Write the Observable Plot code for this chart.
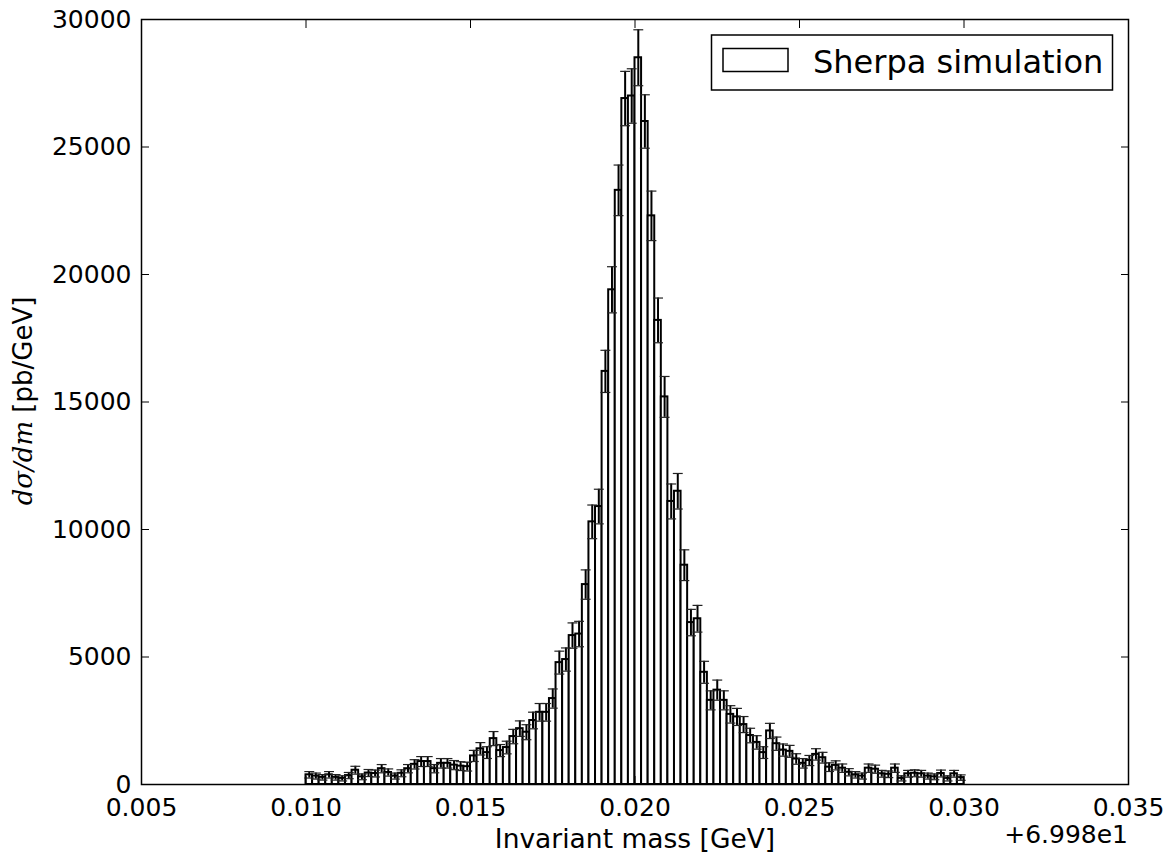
<!DOCTYPE html>
<html>
<head>
<meta charset="utf-8">
<script src="https://cdn.jsdelivr.net/npm/d3@7"></script>
<script src="https://cdn.jsdelivr.net/npm/@observablehq/plot@0.6"></script>
<style>
  body { margin: 0; background: #ffffff; }
  #chart { width: 1175px; height: 855px; }
</style>
</head>
<body>
<div id="chart"></div>
<script>
// Histogram bins (offset from 69.98 GeV): 100 bins of 0.0002 GeV from 0.010 to 0.030
const binStart = 0.010;
const binWidth = 0.0002;

// dσ/dm [pb/GeV] per bin
const xsec = [
  380, 330, 280, 380, 280, 240, 350, 560, 300, 450,
  430, 620, 470, 330, 440, 620, 790, 900, 900, 620,
  830, 830, 760, 720, 700, 1120, 1400, 1250, 1800, 1330,
  1450, 1880, 2190, 2050, 2510, 2830, 2830, 3370, 4780, 4900,
  5840, 5900, 7840, 10300, 10900, 16200, 19400, 23300, 26900, 27000,
  28500, 26000, 22300, 18200, 15200, 11100, 11500, 8600, 6350, 6500,
  4400, 3300, 3700, 3300, 2750, 2650, 2350, 1920, 1650, 1250,
  2100, 1600, 1350, 1300, 1000, 830, 940, 1180, 1050, 680,
  750, 640, 480, 380, 330, 640, 600, 420, 400, 640,
  240, 420, 440, 420, 330, 300, 430, 240, 420, 270
];

// error bar half-lengths per bin
const xsecErr = [
  127, 118, 109, 127, 109, 101, 122, 154, 113, 138,
  135, 162, 141, 118, 136, 162, 183, 195, 195, 162,
  187, 187, 179, 174, 172, 218, 243, 230, 276, 237,
  248, 282, 304, 294, 326, 346, 346, 377, 449, 455,
  497, 499, 576, 660, 679, 827, 905, 992, 1066, 1068,
  1097, 1048, 971, 877, 801, 685, 697, 603, 518, 524,
  431, 373, 395, 373, 341, 335, 315, 285, 264, 230,
  298, 260, 239, 234, 206, 187, 199, 223, 211, 170,
  178, 164, 142, 127, 118, 164, 159, 133, 130, 164,
  101, 133, 136, 133, 118, 113, 135, 101, 133, 107
];

const xTicks = [0.005, 0.010, 0.015, 0.020, 0.025, 0.030, 0.035];
const yTicks = [0, 5000, 10000, 15000, 20000, 25000, 30000];
const xDomain = [0.005, 0.035];
const yDomain = [0, 30000];
const xLabel = "Invariant mass [GeV]";
const yLabelMath = "dσ/dm";
const yLabelUnit = " [pb/GeV]";
const offsetLabel = "+6.998e1";
const legendLabel = "Sherpa simulation";

const bins = xsec.map((v, i) => ({
  lo: binStart + i * binWidth,
  hi: binStart + (i + 1) * binWidth,
  mid: binStart + (i + 0.5) * binWidth,
  v,
  e: xsecErr[i]
}));

// horizontal cap symbol for error bars
const capSymbol = {
  draw(ctx, size) {
    const w = Math.sqrt(size) / 2;
    ctx.moveTo(-w, 0);
    ctx.lineTo(w, 0);
  }
};

const W = 1175, H = 855;
const mL = 141, mR = 47, mT = 19, mB = 71;

const svg = Plot.plot({
  width: W,
  height: H,
  marginLeft: mL,
  marginRight: mR,
  marginTop: mT,
  marginBottom: mB,
  x: { domain: xDomain, axis: null },
  y: { domain: yDomain, axis: null },
  style: { fontFamily: "DejaVu Sans", fontSize: "25px", color: "black", background: "white", overflow: "visible" },
  marks: [
    Plot.rectY(bins, { x1: "lo", x2: "hi", y: "v", fill: "white", stroke: "black", strokeWidth: 2 }),
    Plot.ruleX(bins, { x: "mid", y1: d => d.v - d.e, y2: d => d.v + d.e, stroke: "black", strokeWidth: 2 }),
    Plot.dot(bins, { x: "mid", y: d => d.v + d.e, symbol: capSymbol, r: 5.6, stroke: "#222", strokeWidth: 1.2, fill: "none" }),
    Plot.dot(bins, { x: "mid", y: d => d.v - d.e, symbol: capSymbol, r: 5.6, stroke: "#222", strokeWidth: 1.2, fill: "none" }),
    // inward ticks on all four sides
    Plot.axisX(xTicks, { anchor: "bottom", tickSize: 8, dy: -8, tickFormat: () => "", label: null, stroke: "black" }),
    Plot.axisX(xTicks, { anchor: "top", tickSize: 8, dy: 8, tickFormat: () => "", label: null, stroke: "black" }),
    Plot.axisY(yTicks, { anchor: "left", tickSize: 8, dx: 8, tickFormat: () => "", label: null, stroke: "black" }),
    Plot.axisY(yTicks, { anchor: "right", tickSize: 8, dx: -8, tickFormat: () => "", label: null, stroke: "black" }),
    // tick labels
    Plot.axisX(xTicks, { anchor: "bottom", tickSize: 0, tickPadding: 14, tickFormat: d3.format(".3f"), label: null, fontSize: 25, fill: "black" }),
    Plot.axisY(yTicks, { anchor: "left", tickSize: 0, tickPadding: 10, tickFormat: d3.format("d"), label: null, fontSize: 25, fill: "black" }),
    Plot.frame({ stroke: "black", strokeWidth: 1.5 })
  ]
});

const s = d3.select(svg);
const plotRight = W - mR;

// x label
s.append("text")
  .attr("x", 635).attr("y", 848)
  .attr("text-anchor", "middle")
  .attr("font-family", "DejaVu Sans").attr("font-size", 26.5)
  .attr("fill", "black")
  .text(xLabel);

// offset text
s.append("text")
  .attr("x", plotRight).attr("y", 843)
  .attr("text-anchor", "end")
  .attr("font-family", "DejaVu Sans").attr("font-size", 25)
  .attr("fill", "black")
  .text(offsetLabel);

// y label with math part
const yl = s.append("text")
  .attr("transform", `translate(32, 401) rotate(-90)`)
  .attr("text-anchor", "middle")
  .attr("font-family", "DejaVu Sans").attr("font-size", 26)
  .attr("fill", "black");
yl.append("tspan").attr("font-family", "DejaVu Serif").attr("font-style", "italic").text(yLabelMath);
yl.append("tspan").text(yLabelUnit);

// legend
const lg = s.append("g");
lg.append("rect").attr("x", 711.5).attr("y", 35).attr("width", 401).attr("height", 55)
  .attr("fill", "white").attr("stroke", "black").attr("stroke-width", 1.5);
lg.append("rect").attr("x", 723).attr("y", 48.5).attr("width", 65).attr("height", 23)
  .attr("fill", "white").attr("stroke", "black").attr("stroke-width", 1.5);
lg.append("text").attr("x", 813).attr("y", 73)
  .attr("text-anchor", "start")
  .attr("font-family", "DejaVu Sans").attr("font-size", 32).attr("fill", "black")
  .text(legendLabel);

document.getElementById("chart").appendChild(svg);
</script>
</body>
</html>
